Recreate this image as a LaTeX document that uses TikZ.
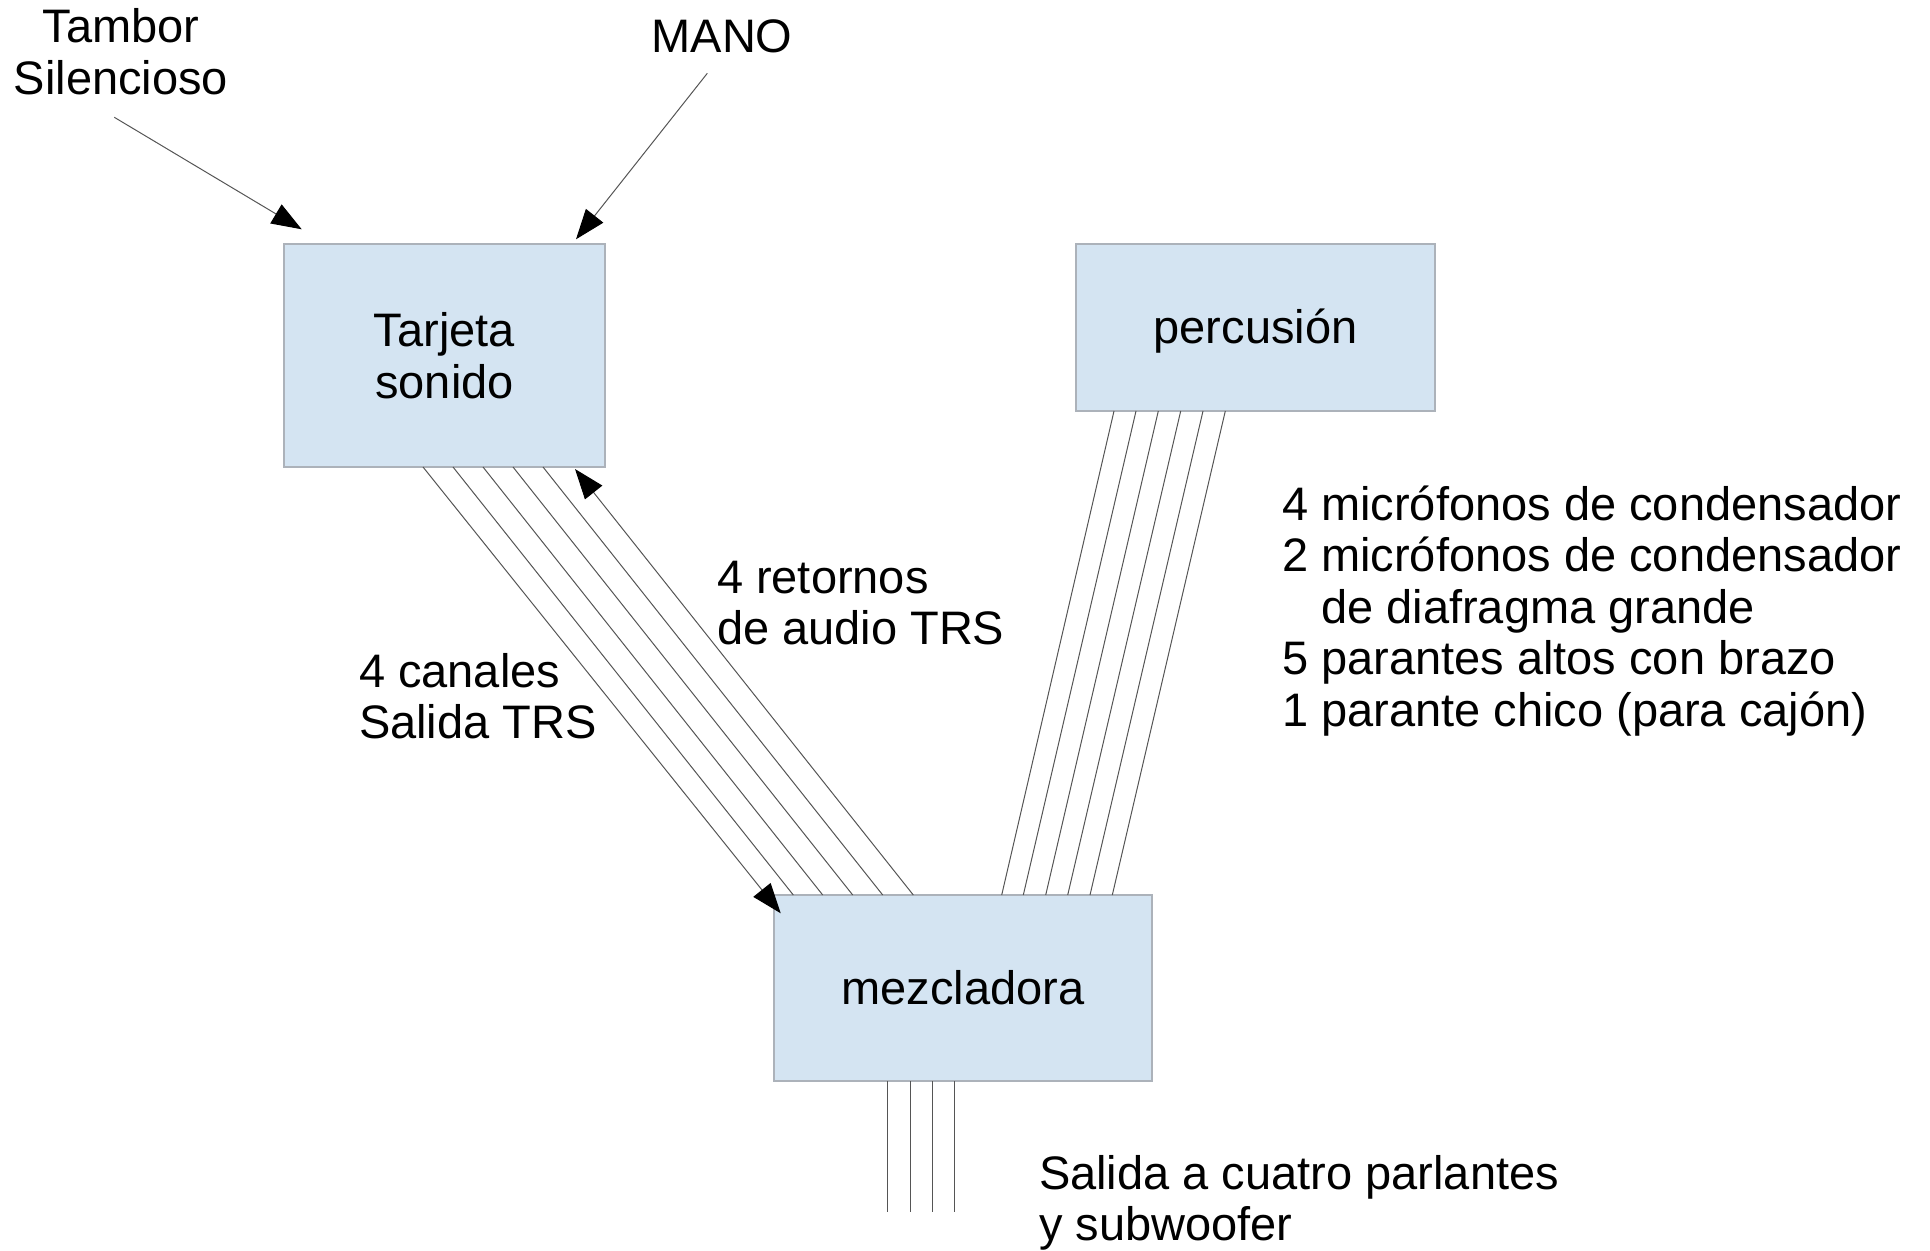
\documentclass[tikz,border=0pt]{standalone}
\usepackage{fontspec}
\setmainfont{Liberation Sans}
\usetikzlibrary{arrows.meta,calc}
\definecolor{boxfill}{RGB}{212,228,242}
\definecolor{boxline}{RGB}{172,178,186}
\definecolor{wirecol}{RGB}{85,85,85}
\begin{document}
\begin{tikzpicture}[x=0.5pt,y=-0.5pt,
  box/.style={draw=boxline, line width=0.6pt, fill=boxfill, inner sep=0pt, outer sep=0pt, align=center},
  lbl/.style={inner sep=0pt, outer sep=0pt},
  wire/.style={draw=wirecol, line width=0.5pt},
  arr/.style={wire, -{Triangle[length=15pt,width=11pt,black]}},
  every node/.style={font=\fontsize{23.5}{25.8}\selectfont}
]
\useasboundingbox (0,0) rectangle (1930,1251);

% boxes
\node[box, minimum width=160.5pt, minimum height=111.5pt] (tarjeta) at (444.5,355.5) {Tarjeta\\sonido};
\node[box, minimum width=179.5pt, minimum height=83.5pt, text height=16pt, text depth=0pt] (perc) at (1255.5,327.5) {percusión};
\node[box, minimum width=189pt, minimum height=93pt] (mezcla) at (963,988) {mezcladora};

% labels (base anchor = baseline of the last line)
\node[lbl, align=center, anchor=base] (tambor) at (121,94.6) {Tambor\\Silencioso};
\node[lbl, anchor=base] (mano) at (722,53) {MANO};
\node[lbl, align=left, anchor=base west] (canales) at (359,738.6) {4 canales\\Salida TRS};
\node[lbl, align=left, anchor=base west] (retornos) at (717,644.6) {4 retornos\\de audio TRS};
\node[lbl, align=left, anchor=base west] (lista) at (1282,726.4) {4 micrófonos de condensador\\2 micrófonos de condensador\\\hphantom{2\ }de diafragma grande\\5 parantes altos con brazo\\1 parante chico (para cajón)};
\node[lbl, align=left, anchor=base west] (salida) at (1039,1240.6) {Salida a cuatro parlantes\\y subwoofer};

% input arrows
\coordinate (tamborend) at (114.3,117.3);
\coordinate (manoend) at (707.3,73.3);
\draw[arr] (tamborend) -- ($(tarjeta.north west)+(17.7,-14.7)$);
\draw[arr] (manoend) -- ($(tarjeta.north west)+(292,-4.7)$);

% tarjeta <-> mezcladora
\draw[arr] ($(tarjeta.south west)+(139,0)$) -- ($(mezcla.north west)+(6.7,18.3)$);
\foreach \t/\m in {169/19.3,199/48.7,229/78.7,259/108.7}
  \draw[wire] ($(tarjeta.south west)+(\t,0)$) -- ($(mezcla.north west)+(\m,0)$);
\draw[arr] ($(mezcla.north west)+(139.3,0)$) -- ($(tarjeta.south west)+(291,2)$);

% percusion -> mezcladora
\foreach \p/\m in {38/227.7,60/249.3,82.3/271.7,104.7/293.7,127/316,149.3/338.3}
  \draw[wire] ($(perc.south west)+(\p,0)$) -- ($(mezcla.north west)+(\m,0)$);

% outputs
\coordinate (o1) at (887.7,1212);
\coordinate (o2) at (910,1212);
\coordinate (o3) at (932.3,1212);
\coordinate (o4) at (954.3,1212);
\foreach \k/\m in {1/113.7,2/136,3/158.3,4/180.3}
  \draw[wire] ($(mezcla.south west)+(\m,0)$) -- (o\k);
\end{tikzpicture}
\end{document}
